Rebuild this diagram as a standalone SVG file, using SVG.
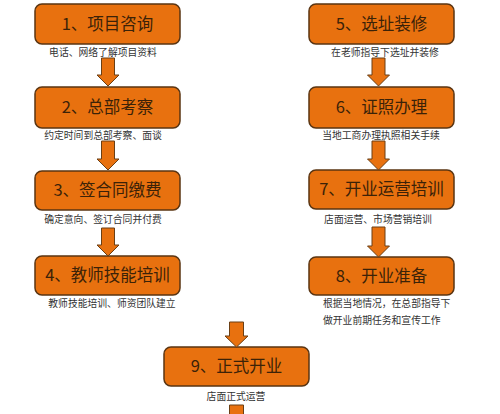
<svg xmlns="http://www.w3.org/2000/svg" width="500" height="414" viewBox="0 0 500 414">
<style>
.box{fill:#E8710F;stroke:#5A3512;stroke-width:1.5}
.t{font-family:"Noto Sans CJK SC","Liberation Serif",serif;font-size:16.5px;fill:#3B2208;text-anchor:middle}
.s{font-family:"Noto Sans CJK SC","Liberation Sans",sans-serif;font-size:9.8px;fill:#333;text-anchor:middle}
.sl{font-family:"Noto Sans CJK SC","Liberation Sans",sans-serif;font-size:9.8px;fill:#333;text-anchor:start}
.ar{fill:#E8710F;stroke:#6A3F15;stroke-width:1}
</style>
<rect width="500" height="414" fill="#fff"/>
<g id="n1"><rect class="box" x="35" y="4" width="145" height="40" rx="7"/><text class="t" x="107.5" y="30">1、项目咨询</text><text class="s" x="103" y="56">电话、网络了解项目资料</text></g>
<g id="n2"><rect class="box" x="35" y="87" width="145" height="41" rx="7"/><text class="t" x="107.5" y="113">2、总部考察</text><text class="s" x="103" y="139">约定时间到总部考察、面谈</text></g>
<g id="n3"><rect class="box" x="35" y="171" width="145" height="39" rx="7"/><text class="t" x="107.5" y="196">3、签合同缴费</text><text class="s" x="103" y="223">确定意向、签订合同并付费</text></g>
<g id="n4"><rect class="box" x="35" y="256" width="145" height="39" rx="7"/><text class="t" x="107.5" y="281">4、教师技能培训</text><text class="s" x="112" y="307">教师技能培训、师资团队建立</text></g>
<g id="n5"><rect class="box" x="309" y="4" width="145" height="40" rx="7"/><text class="t" x="381.5" y="30">5、选址装修</text><text class="s" x="385" y="56">在老师指导下选址并装修</text></g>
<g id="n6"><rect class="box" x="309" y="87" width="145" height="41" rx="7"/><text class="t" x="381.5" y="113">6、证照办理</text><text class="s" x="381" y="139">当地工商办理执照相关手续</text></g>
<g id="n7"><rect class="box" x="309" y="170" width="145" height="39" rx="7"/><text class="t" x="381.5" y="195">7、开业运营培训</text><text class="s" x="378" y="223">店面运营、市场营销培训</text></g>
<g id="n8"><rect class="box" x="309" y="257" width="145" height="38" rx="7"/><text class="t" x="381.5" y="282">8、开业准备</text><text class="sl" x="323" y="307">根据当地情况，在总部指导下</text><text class="sl" x="323" y="324">做开业前期任务和宣传工作</text></g>
<g id="n9"><rect class="box" x="164" y="347" width="145" height="39" rx="7"/><text class="t" x="236.5" y="372">9、正式开业</text><text class="s" x="236" y="400">店面正式运营</text></g>
<g id="connectors">
<path class="ar" d="M101.5,58 H114.5 V75 H119 L108,86 L97,75 H101.5 Z"/>
<path class="ar" d="M101.5,141 H114.5 V159 H119 L108,170 L97,159 H101.5 Z"/>
<path class="ar" d="M101.5,228 H114.5 V245 H119 L108,256 L97,245 H101.5 Z"/>
<path class="ar" d="M372,58 H385 V75 H389.5 L378.5,86 L367.5,75 H372 Z"/>
<path class="ar" d="M372,141 H385 V159 H389.5 L378.5,170 L367.5,159 H372 Z"/>
<path class="ar" d="M372,227 H385 V246 H389.5 L378.5,257 L367.5,246 H372 Z"/>
<path class="ar" d="M229.5,322 H243.5 V336 H248 L236.5,347 L225,336 H229.5 Z"/>
<path class="ar" d="M229.5,405 H243.5 V416 H229.5 Z"/>
</g>
</svg>
